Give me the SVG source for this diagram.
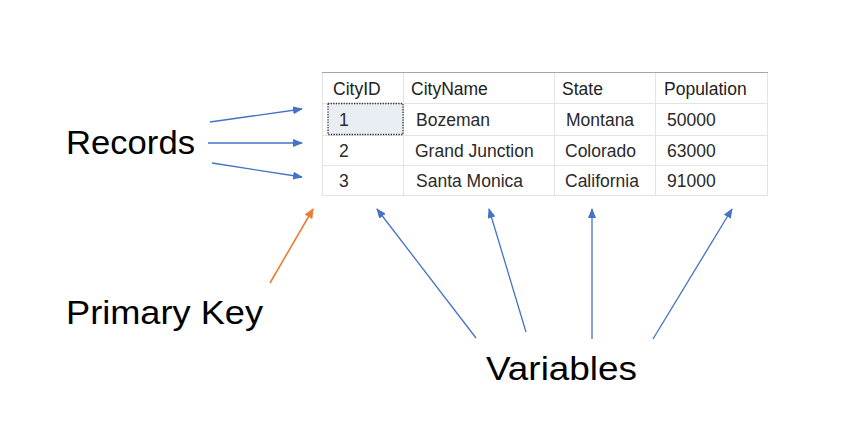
<svg xmlns="http://www.w3.org/2000/svg" width="846" height="437" viewBox="0 0 846 437">
<defs>
<style>
.lbl{font-family:"Liberation Sans",Arial,sans-serif;font-size:34px;fill:#000}
.hd{font-family:"Liberation Sans",Arial,sans-serif;font-size:17.5px;fill:#222}
.cell{font-family:"Liberation Sans",Arial,sans-serif;font-size:17.5px;fill:#2a2a2a}
.grid{stroke:#e3e3e3;stroke-width:1;fill:none}
.blue{stroke:#4472C4;stroke-width:1.3;fill:none;marker-end:url(#ab)}
.orange{stroke:#ED7D31;stroke-width:1.6;fill:none;marker-end:url(#ao)}
</style>
<marker id="ab" viewBox="0 0 10 10" refX="9" refY="5" markerWidth="10" markerHeight="8" markerUnits="userSpaceOnUse" orient="auto" preserveAspectRatio="none">
<path d="M0,0 L10,5 L0,10 z" fill="#4472C4"/>
</marker>
<marker id="ao" viewBox="0 0 10 10" refX="9" refY="5" markerWidth="10" markerHeight="9" markerUnits="userSpaceOnUse" orient="auto" preserveAspectRatio="none">
<path d="M0,0 L10,5 L0,10 z" fill="#ED7D31"/>
</marker>
</defs>
<rect width="846" height="437" fill="#fff"/>
<g id="table">
<rect x="328" y="103" width="75" height="32" fill="#e9eef4"/>
<path class="grid" d="M322,103.5H768M322,135.5H768M322,165.5H768M322,195.5H768M322.5,73V196M403.5,73V196M554.5,73V196M655.5,73V196M767.5,73V196"/>
<line x1="322" y1="72.5" x2="768" y2="72.5" stroke="#a6a6a6" stroke-width="1.2"/>
<rect x="328" y="103.5" width="75" height="31" fill="none" stroke="#333" stroke-width="1.3" stroke-dasharray="1.3,1.3"/>
<text class="hd" x="333" y="95">CityID</text>
<text class="hd" x="411" y="95">CityName</text>
<text class="hd" x="562" y="95">State</text>
<text class="hd" x="664" y="95">Population</text>
<text class="cell" x="339" y="126">1</text>
<text class="cell" x="416" y="126">Bozeman</text>
<text class="cell" x="566" y="126">Montana</text>
<text class="cell" x="667" y="126">50000</text>
<text class="cell" x="339" y="157">2</text>
<text class="cell" x="415" y="157">Grand Junction</text>
<text class="cell" x="565" y="157">Colorado</text>
<text class="cell" x="667" y="157">63000</text>
<text class="cell" x="339" y="187">3</text>
<text class="cell" x="416" y="187">Santa Monica</text>
<text class="cell" x="565" y="187">California</text>
<text class="cell" x="667" y="187">91000</text>
</g>
<g id="records"><text class="lbl" x="66" y="154" textLength="129" lengthAdjust="spacingAndGlyphs">Records</text></g>
<g id="primary-key"><text class="lbl" x="66" y="324" textLength="197" lengthAdjust="spacingAndGlyphs">Primary Key</text></g>
<g id="variables"><text class="lbl" x="486" y="380" textLength="151" lengthAdjust="spacingAndGlyphs">Variables</text></g>
<g id="connectors">
<line class="blue" x1="210" y1="122" x2="302" y2="109"/>
<line class="blue" x1="208" y1="143" x2="302" y2="143"/>
<line class="blue" x1="212" y1="163" x2="302" y2="177"/>
<line class="orange" x1="270" y1="283" x2="313" y2="209"/>
<line class="blue" x1="476" y1="338" x2="377" y2="209"/>
<line class="blue" x1="526" y1="332" x2="489" y2="209"/>
<line class="blue" x1="592" y1="339" x2="592" y2="209"/>
<line class="blue" x1="653" y1="339" x2="732" y2="209"/>
</g>
</svg>
